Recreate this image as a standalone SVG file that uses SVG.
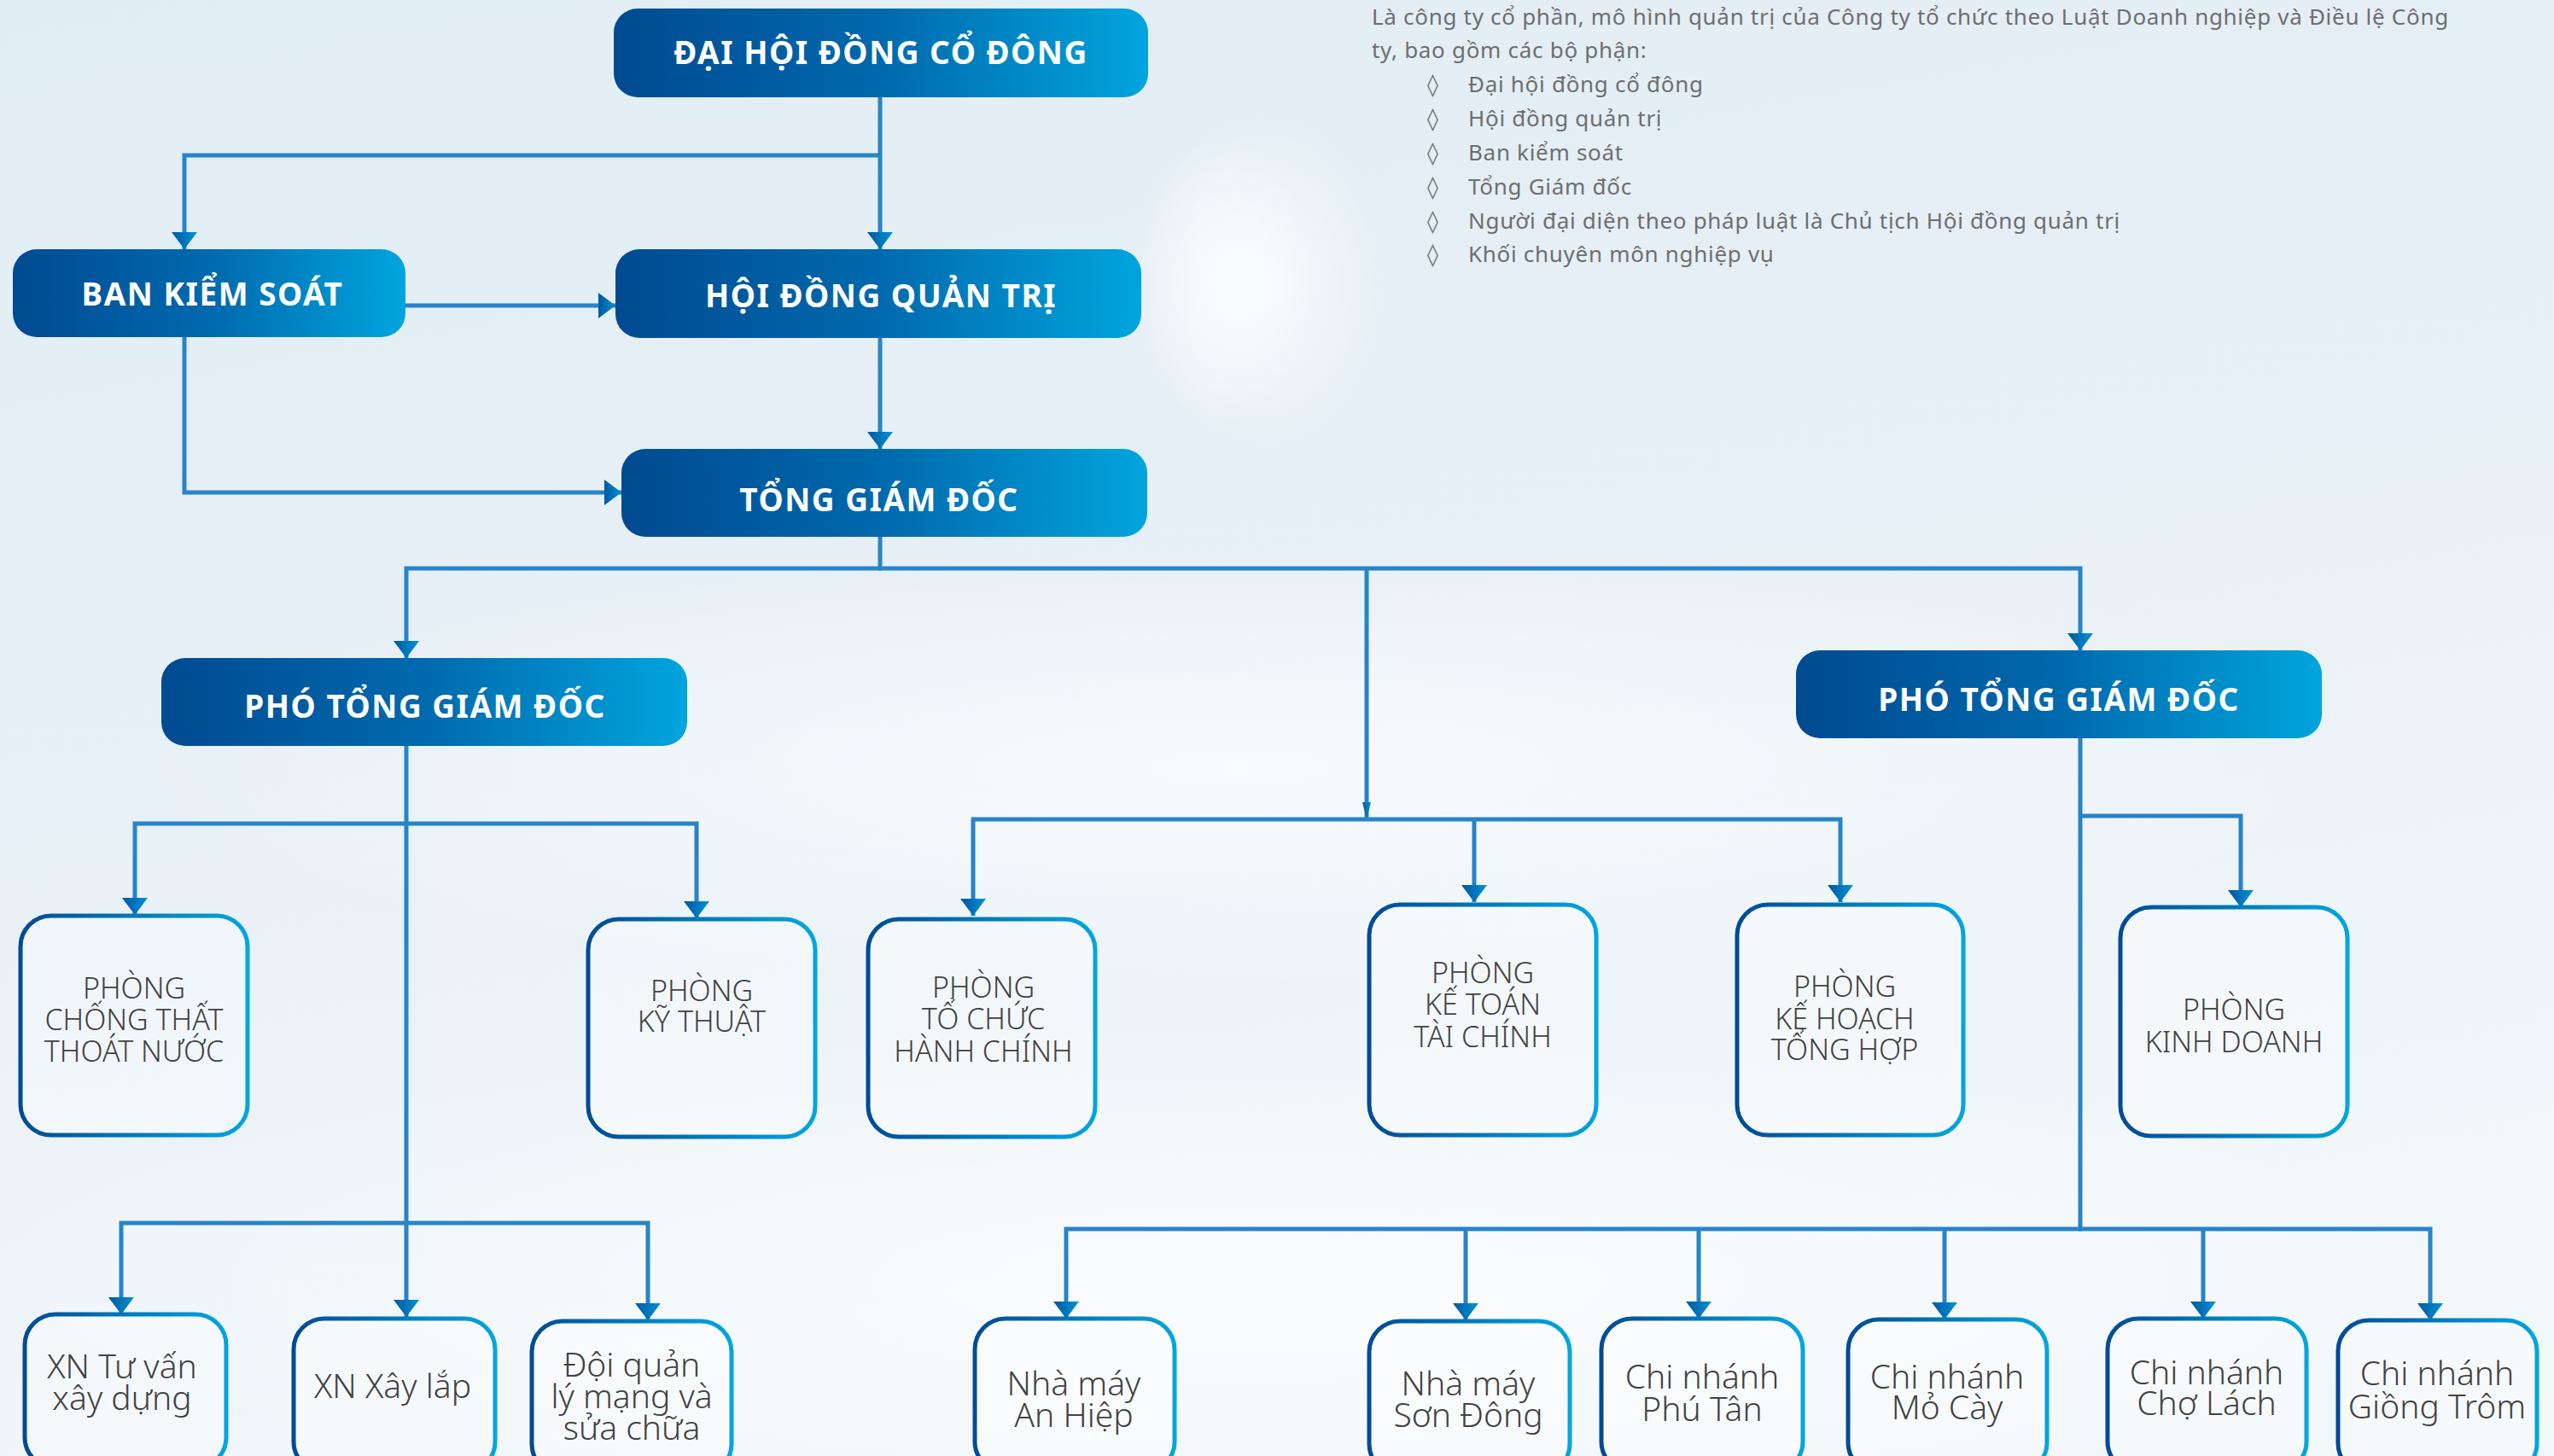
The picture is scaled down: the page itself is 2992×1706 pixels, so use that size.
<svg xmlns="http://www.w3.org/2000/svg" width="2992" height="1706" viewBox="0 0 2992 1706">
<defs>
  <linearGradient id="bg" x1="0" y1="0" x2="0.3" y2="1">
    <stop offset="0" stop-color="#e1edf4"/>
    <stop offset="0.5" stop-color="#e7f0f6"/>
    <stop offset="1" stop-color="#f2f7fa"/>
  </linearGradient>
  <radialGradient id="glow" cx="0.5" cy="0.5" r="0.5">
    <stop offset="0" stop-color="#ffffff" stop-opacity="0.7"/>
    <stop offset="1" stop-color="#ffffff" stop-opacity="0"/>
  </radialGradient>
  <linearGradient id="fillG" x1="0" y1="0" x2="1" y2="0">
    <stop offset="0" stop-color="#004a91"/>
    <stop offset="0.5" stop-color="#0069ad"/>
    <stop offset="1" stop-color="#00a5de"/>
  </linearGradient>
  <linearGradient id="strokeG" x1="0" y1="0" x2="1" y2="0">
    <stop offset="0" stop-color="#004b95"/>
    <stop offset="1" stop-color="#00a6df"/>
  </linearGradient>
  <linearGradient id="arrG" x1="0" y1="0" x2="1" y2="0">
    <stop offset="0" stop-color="#0057a0"/>
    <stop offset="1" stop-color="#0093d4"/>
  </linearGradient>
  <marker id="ad" viewBox="0 0 30 20" refX="15" refY="20" markerWidth="30" markerHeight="20" markerUnits="userSpaceOnUse" orient="0">
    <path d="M0,0 L30,0 L15,20 Z" fill="url(#arrG)"/>
  </marker>
  <marker id="ar" viewBox="0 0 20 30" refX="20" refY="15" markerWidth="20" markerHeight="30" markerUnits="userSpaceOnUse" orient="0">
    <path d="M0,0 L20,15 L0,30 Z" fill="url(#arrG)"/>
  </marker>
  <marker id="at" viewBox="0 0 10 20" refX="5" refY="20" markerWidth="10" markerHeight="20" markerUnits="userSpaceOnUse" orient="0">
    <path d="M0,0 L10,0 L5,20 Z" fill="url(#arrG)"/>
  </marker>
  <style>
    .con { fill: none; stroke: #2784c9; stroke-width: 5; }
    .dn { marker-end: url(#ad); }
    .rt { marker-end: url(#ar); }
    .hb { fill: url(#fillG); }
    .ht { font-family: "Noto Sans", "Liberation Sans", sans-serif; font-weight: 700; font-size: 37px; letter-spacing: 1.5px; fill: #ffffff; text-anchor: middle; }
    .wb { fill: #ffffff; fill-opacity: 0.35; stroke: url(#strokeG); stroke-width: 5; }
    .wt { font-family: "Noto Sans", "Liberation Sans", sans-serif; font-weight: 300; font-size: 34px; fill: #424242; text-anchor: middle; }
    .bt { font-family: "Noto Sans", "Liberation Sans", sans-serif; font-weight: 300; font-size: 39px; fill: #424242; text-anchor: middle; }
    .pt { font-family: "Noto Sans", "DejaVu Sans", sans-serif; font-weight: 400; font-size: 26px; letter-spacing: 0.7px; fill: #6e6e6e; }
  </style>
</defs>

<rect x="0" y="0" width="2992" height="1706" fill="url(#bg)"/>
<ellipse cx="1450" cy="900" rx="1300" ry="260" fill="url(#glow)"/>
<ellipse cx="1450" cy="1500" rx="1500" ry="300" fill="url(#glow)"/>
<ellipse cx="1430" cy="330" rx="110" ry="170" fill="url(#glow)"/>
<ellipse cx="1480" cy="330" rx="150" ry="200" fill="url(#glow)"/>

<g id="intro">
  <text class="pt" x="1607" y="29">Là công ty cổ phần, mô hình quản trị của Công ty tổ chức theo Luật Doanh nghiệp và Điều lệ Công</text>
  <text class="pt" x="1607" y="68">ty, bao gồm các bộ phận:</text>
  <g class="pt">
    <text x="1672" y="108">◊</text><text x="1720" y="108">Đại hội đồng cổ đông</text>
    <text x="1672" y="148">◊</text><text x="1720" y="148">Hội đồng quản trị</text>
    <text x="1672" y="188">◊</text><text x="1720" y="188">Ban kiểm soát</text>
    <text x="1672" y="228">◊</text><text x="1720" y="228">Tổng Giám đốc</text>
    <text x="1672" y="268">◊</text><text x="1720" y="268">Người đại diện theo pháp luật là Chủ tịch Hội đồng quản trị</text>
    <text x="1672" y="307">◊</text><text x="1720" y="307">Khối chuyên môn nghiệp vụ</text>
  </g>
</g>

<g id="connectors">
  <path class="con dn" d="M1031,114 V292"/>
  <path class="con dn" d="M1031,182 H216 V292"/>
  <path class="con rt" d="M475,358 H721"/>
  <path class="con dn" d="M1031,396 V526"/>
  <path class="con rt" d="M216,395 V577 H728"/>
  <path class="con" d="M1031,629 V666"/>
  <path class="con dn" d="M1033,666 H476 V771"/>
  <path class="con dn" d="M1029,666 H2437 V762"/>
  <path class="con" d="M1601,666 V960" marker-end="url(#at)"/>
  <path class="con dn" d="M1601,960 H1140 V1073"/>
  <path class="con dn" d="M1601,960 H2156 V1057"/>
  <path class="con dn" d="M1727,960 V1057"/>
  <path class="con dn" d="M476,874 V1543"/>
  <path class="con dn" d="M478,965 H158 V1072"/>
  <path class="con dn" d="M474,965 H816 V1076"/>
  <path class="con dn" d="M478,1433 H142 V1540"/>
  <path class="con dn" d="M474,1433 H759 V1547"/>
  <path class="con" d="M2437,865 V1440"/>
  <path class="con dn" d="M2435,956 H2625 V1063"/>
  <path class="con dn" d="M2439,1440 H1249 V1545"/>
  <path class="con dn" d="M2435,1440 H2847 V1547"/>
  <path class="con dn" d="M1717,1440 V1547"/>
  <path class="con dn" d="M1990,1440 V1545"/>
  <path class="con dn" d="M2278,1440 V1546"/>
  <path class="con dn" d="M2581,1440 V1545"/>
</g>

<g id="dai-hoi-dong-co-dong">
  <rect class="hb" x="719" y="10" width="626" height="104" rx="28"/>
  <text class="ht" x="1032" y="75">ĐẠI HỘI ĐỒNG CỔ ĐÔNG</text>
</g>
<g id="ban-kiem-soat">
  <rect class="hb" x="15" y="292" width="460" height="103" rx="28"/>
  <text class="ht" x="249" y="358">BAN KIỂM SOÁT</text>
</g>
<g id="hoi-dong-quan-tri">
  <rect class="hb" x="721" y="292" width="616" height="104" rx="28"/>
  <text class="ht" x="1032" y="360">HỘI ĐỒNG QUẢN TRỊ</text>
</g>
<g id="tong-giam-doc">
  <rect class="hb" x="728" y="526" width="616" height="103" rx="28"/>
  <text class="ht" x="1030" y="599">TỔNG GIÁM ĐỐC</text>
</g>
<g id="pho-tgd-1">
  <rect class="hb" x="189" y="771" width="616" height="103" rx="28"/>
  <text class="ht" x="498" y="841">PHÓ TỔNG GIÁM ĐỐC</text>
</g>
<g id="pho-tgd-2">
  <rect class="hb" x="2104" y="762" width="616" height="103" rx="28"/>
  <text class="ht" x="2412" y="833">PHÓ TỔNG GIÁM ĐỐC</text>
</g>

<g id="phong-chong-that-thoat-nuoc">
  <rect class="wb" x="24" y="1073" width="266" height="257" rx="36"/>
  <text class="wt" x="157" y="1170">PHÒNG</text>
  <text class="wt" x="157" y="1207">CHỐNG THẤT</text>
  <text class="wt" x="157" y="1244">THOÁT NƯỚC</text>
</g>
<g id="phong-ky-thuat">
  <rect class="wb" x="689" y="1077" width="266" height="255" rx="36"/>
  <text class="wt" x="822" y="1173">PHÒNG</text>
  <text class="wt" x="822" y="1209">KỸ THUẬT</text>
</g>
<g id="phong-to-chuc-hanh-chinh">
  <rect class="wb" x="1017" y="1077" width="266" height="255" rx="36"/>
  <text class="wt" x="1152" y="1169">PHÒNG</text>
  <text class="wt" x="1152" y="1206">TỔ CHỨC</text>
  <text class="wt" x="1152" y="1244">HÀNH CHÍNH</text>
</g>
<g id="phong-ke-toan-tai-chinh">
  <rect class="wb" x="1604" y="1060" width="266" height="270" rx="36"/>
  <text class="wt" x="1737" y="1152">PHÒNG</text>
  <text class="wt" x="1737" y="1189">KẾ TOÁN</text>
  <text class="wt" x="1737" y="1227">TÀI CHÍNH</text>
</g>
<g id="phong-ke-hoach-tong-hop">
  <rect class="wb" x="2035" y="1060" width="265" height="270" rx="36"/>
  <text class="wt" x="2161" y="1168">PHÒNG</text>
  <text class="wt" x="2161" y="1206">KẾ HOẠCH</text>
  <text class="wt" x="2161" y="1242">TỔNG HỢP</text>
</g>
<g id="phong-kinh-doanh">
  <rect class="wb" x="2484" y="1063" width="266" height="268" rx="36"/>
  <text class="wt" x="2617" y="1195">PHÒNG</text>
  <text class="wt" x="2617" y="1233">KINH DOANH</text>
</g>

<g id="xn-tu-van-xay-dung">
  <rect class="wb" x="29" y="1540" width="236" height="180" rx="36"/>
  <text class="bt" x="143" y="1615">XN Tư vấn</text>
  <text class="bt" x="143" y="1652">xây dựng</text>
</g>
<g id="xn-xay-lap">
  <rect class="wb" x="344" y="1545" width="236" height="180" rx="36"/>
  <text class="bt" x="460" y="1638">XN Xây lắp</text>
</g>
<g id="doi-quan-ly-mang">
  <rect class="wb" x="623" y="1548" width="234" height="180" rx="36"/>
  <text class="bt" x="740" y="1613">Đội quản</text>
  <text class="bt" x="740" y="1650">lý mạng và</text>
  <text class="bt" x="740" y="1687">sửa chữa</text>
</g>
<g id="nha-may-an-hiep">
  <rect class="wb" x="1142" y="1545" width="234" height="180" rx="36"/>
  <text class="bt" x="1258" y="1635">Nhà máy</text>
  <text class="bt" x="1258" y="1672">An Hiệp</text>
</g>
<g id="nha-may-son-dong">
  <rect class="wb" x="1604" y="1548" width="235" height="180" rx="36"/>
  <text class="bt" x="1720" y="1635">Nhà máy</text>
  <text class="bt" x="1720" y="1672">Sơn Đông</text>
</g>
<g id="chi-nhanh-phu-tan">
  <rect class="wb" x="1876" y="1545" width="236" height="180" rx="36"/>
  <text class="bt" x="1994" y="1627">Chi nhánh</text>
  <text class="bt" x="1994" y="1665">Phú Tân</text>
</g>
<g id="chi-nhanh-mo-cay">
  <rect class="wb" x="2165" y="1546" width="233" height="180" rx="36"/>
  <text class="bt" x="2281" y="1627">Chi nhánh</text>
  <text class="bt" x="2281" y="1663">Mỏ Cày</text>
</g>
<g id="chi-nhanh-cho-lach">
  <rect class="wb" x="2469" y="1545" width="233" height="180" rx="36"/>
  <text class="bt" x="2585" y="1622">Chi nhánh</text>
  <text class="bt" x="2585" y="1658">Chợ Lách</text>
</g>
<g id="chi-nhanh-giong-trom">
  <rect class="wb" x="2739" y="1547" width="233" height="180" rx="36"/>
  <text class="bt" x="2855" y="1623">Chi nhánh</text>
  <text class="bt" x="2855" y="1662">Giồng Trôm</text>
</g>
</svg>
